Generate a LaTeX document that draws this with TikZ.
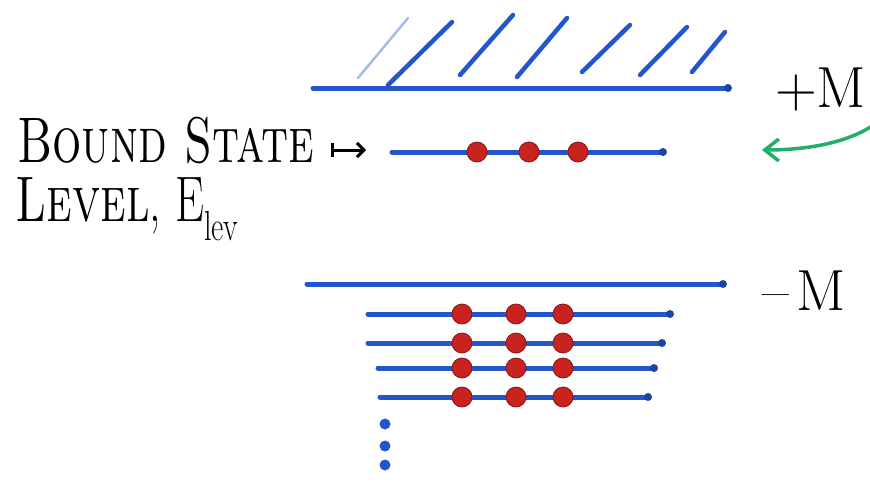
\documentclass[tikz,border=0pt]{standalone}
\usepackage{fontspec}
\usepackage{graphicx}
\usetikzlibrary{arrows.meta, positioning}

\definecolor{penblue}{RGB}{35,85,205}
\definecolor{penred}{RGB}{200,35,30}
\definecolor{pendark}{RGB}{140,20,20}
\definecolor{pengreen}{RGB}{30,175,105}
\newcommand{\tallsc}[1]{\scalebox{1}[1.4]{#1}}

\begin{document}
\begin{tikzpicture}[x=1pt, y=-1pt,
  level/.style={draw=penblue, line width=5pt, line cap=round},
  hatch/.style={draw=penblue, line width=4.5pt, line cap=round},
  elec/.style={circle, fill=penred, draw=pendark, line width=0.8pt, minimum size=20pt, inner sep=0pt},
  lvlend/.style={circle, fill=penblue!80!black, minimum size=8pt, inner sep=0pt},
  vdot/.style={circle, fill=penblue, minimum size=11pt, inner sep=0pt},
  hand/.style={font=\fontsize{46}{50}\selectfont, inner sep=0pt}]

  \useasboundingbox (0,0) rectangle (870,501);

  % continuum above +M
  \draw[level] (313,88) -- (728,88) node[lvlend] (topend) {};
  \draw[hatch, draw=penblue!40, line width=2.5pt] (358,78) -- (408,18);
  \foreach \xa/\ya/\xb/\yb in {388/85/452/22, 460/75/513/15, 517/77/567/18,
                               582/72/630/25, 640/75/687/27, 692/72/725/32}
    \draw[hatch] (\xa,\ya) -- (\xb,\yb);

  % bound state level
  \draw[level] (392,152) -- (663,152) node[lvlend] (boundend) {};
  \foreach \x [count=\i] in {477,529,578}
    \node[elec] (b\i) at (\x,152) {};

  % filled sea below -M
  \draw[level] (307,284) -- (723,284) node[lvlend] (seatop) {};
  \foreach \y/\xa/\xb [count=\j] in {314/368/670, 343/368/662, 368/378/654, 397/380/648} {
    \draw[level] (\xa,\y) -- (\xb,\y) node[lvlend] (s\j) {};
    \foreach \x [count=\i] in {462,516,563}
      \node[elec] (e\j\i) at (\x,\y) {};
  }
  \foreach \y [count=\i] in {424,446,465}
    \node[vdot] (v\i) at (385,\y) {};

  % labels
  \node[hand, anchor=base west] (bound) at (17,162) {\tallsc{\textsc{Bound State}}};
  \node[hand, anchor=base west] (lev) at (15,221)
    {\tallsc{\textsc{Level}, E\raisebox{-.3em}{\fontsize{30}{32}\selectfont lev}}};
  \coordinate (ptail) at (331,150);
  \coordinate (phead) at (366,150);
  \draw[line width=3pt, {Bar[width=14pt]}-{Straight Barb[length=7pt,width=14pt]}] (ptail) -- (phead);

  \node[hand, anchor=base west, font=\fontsize{58}{60}\selectfont] (plusm) at (775,107) {+M};
  \node[hand, anchor=base west, font=\fontsize{58}{60}\selectfont] (minusm) at (762,310) {--\hspace{8pt}M};

  % green pointer to the level
  \coordinate (gstart) at (875,124);
  \coordinate (gtip) at (762,150);
  \draw[pengreen, line width=3.5pt, -{Straight Barb[length=14pt,width=22pt]}]
    (gstart) .. controls (845,145) and (800,150) .. (gtip);
\end{tikzpicture}
\end{document}
